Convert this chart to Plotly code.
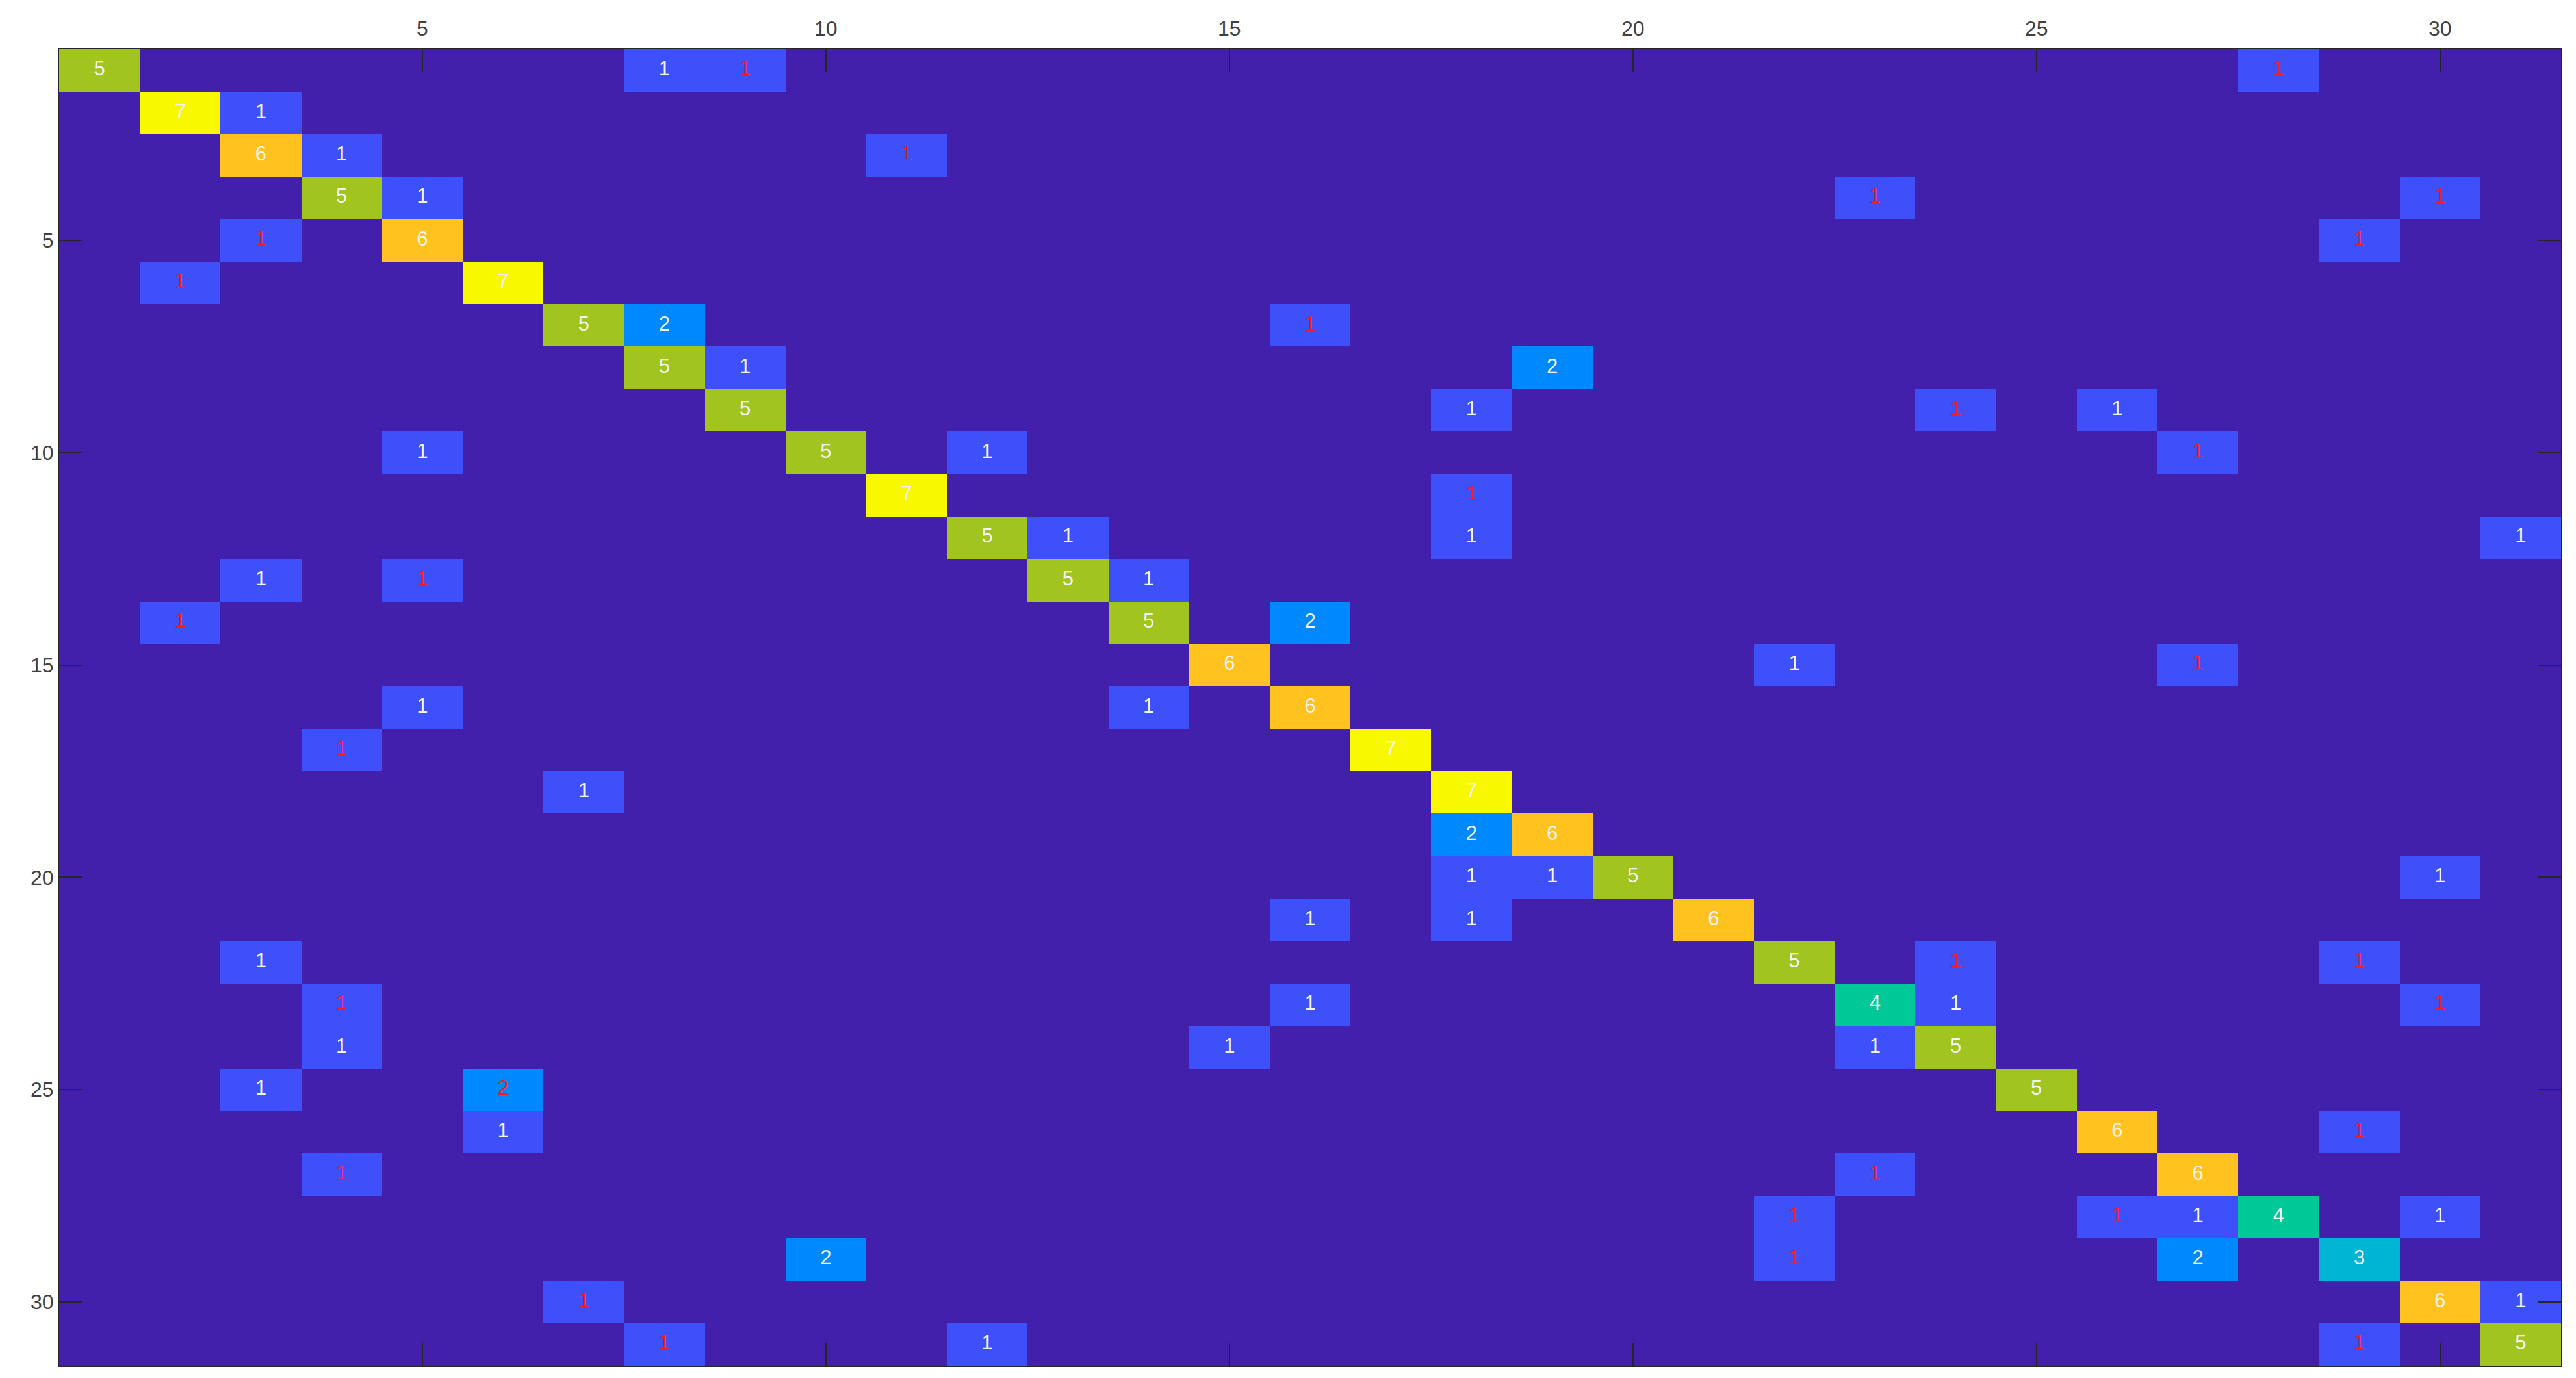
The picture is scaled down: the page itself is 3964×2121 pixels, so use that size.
import numpy as np
import plotly.graph_objects as go

N = 31
# sparse non-zero cells of the 31x31 matrix: (row, col, value)
cell_rows = [1, 1, 1, 1,
             2, 2,
             3, 3, 3,
             4, 4, 4, 4,
             5, 5, 5,
             6, 6,
             7, 7, 7,
             8, 8, 8,
             9, 9, 9, 9,
             10, 10, 10, 10,
             11, 11,
             12, 12, 12, 12,
             13, 13, 13, 13,
             14, 14, 14,
             15, 15, 15,
             16, 16, 16,
             17, 17,
             18, 18,
             19, 19,
             20, 20, 20, 20,
             21, 21, 21,
             22, 22, 22, 22,
             23, 23, 23, 23, 23,
             24, 24, 24, 24,
             25, 25, 25,
             26, 26, 26,
             27, 27, 27,
             28, 28, 28, 28, 28,
             29, 29, 29, 29,
             30, 30, 30,
             31, 31, 31, 31]
cell_cols = [1, 8, 9, 28,
             2, 3,
             3, 4, 11,
             4, 5, 23, 30,
             3, 5, 29,
             2, 6,
             7, 8, 16,
             8, 9, 19,
             9, 18, 24, 26,
             5, 10, 12, 27,
             11, 18,
             12, 13, 18, 31,
             3, 5, 13, 14,
             2, 14, 16,
             15, 22, 27,
             5, 14, 16,
             4, 17,
             7, 18,
             18, 19,
             18, 19, 20, 30,
             16, 18, 21,
             3, 22, 24, 29,
             4, 16, 23, 24, 30,
             4, 15, 23, 24,
             3, 6, 25,
             6, 26, 29,
             4, 23, 27,
             22, 26, 27, 28, 30,
             10, 22, 27, 29,
             7, 30, 31,
             8, 12, 29, 31]
cell_values = [5, 1, 1, 1,
               7, 1,
               6, 1, 1,
               5, 1, 1, 1,
               1, 6, 1,
               1, 7,
               5, 2, 1,
               5, 1, 2,
               5, 1, 1, 1,
               1, 5, 1, 1,
               7, 1,
               5, 1, 1, 1,
               1, 1, 5, 1,
               1, 5, 2,
               6, 1, 1,
               1, 1, 6,
               1, 7,
               1, 7,
               2, 6,
               1, 1, 5, 1,
               1, 1, 6,
               1, 5, 1, 1,
               1, 1, 4, 1, 1,
               1, 1, 1, 5,
               1, 2, 5,
               1, 6, 1,
               1, 1, 6,
               1, 1, 1, 4, 1,
               2, 1, 2, 3,
               1, 6, 1,
               1, 1, 1, 5]
# 1 = label drawn in red, 0 = label drawn in white
label_red = [0, 0, 1, 1,
             0, 0,
             0, 0, 1,
             0, 0, 1, 1,
             1, 0, 1,
             1, 0,
             0, 0, 1,
             0, 0, 0,
             0, 0, 1, 0,
             0, 0, 0, 1,
             0, 1,
             0, 0, 0, 0,
             0, 1, 0, 0,
             1, 0, 0,
             0, 0, 1,
             0, 0, 0,
             1, 0,
             0, 0,
             0, 0,
             0, 0, 0, 0,
             0, 0, 0,
             0, 0, 1, 1,
             1, 0, 0, 0, 1,
             0, 0, 0, 0,
             0, 1, 0,
             0, 0, 1,
             1, 1, 0,
             1, 1, 0, 0, 0,
             0, 1, 0, 0,
             1, 0, 0,
             1, 0, 1, 0]

tick_vals = [5, 10, 15, 20, 25, 30]
level_colors = ["#4320AB", "#3E50F9", "#0088FF", "#00B5D3",
                "#00C896", "#A2C41F", "#FFC21F", "#F8F800"]

z = np.zeros((N, N))
for r, c, v in zip(cell_rows, cell_cols, cell_values):
    z[r - 1, c - 1] = v

# discrete colorscale for integer levels 0..7
nlev = len(level_colors)
colorscale = []
for i, col in enumerate(level_colors):
    colorscale.append([i / nlev, col])
    colorscale.append([(i + 1) / nlev, col])

fig = go.Figure()
fig.add_trace(go.Heatmap(
    z=z, x=list(range(1, N + 1)), y=list(range(1, N + 1)),
    colorscale=colorscale, zmin=-0.5, zmax=nlev - 0.5,
    showscale=False, hoverinfo="skip", xgap=0, ygap=0))

wx = [c for c, f in zip(cell_cols, label_red) if not f]
wy = [r for r, f in zip(cell_rows, label_red) if not f]
wt = [str(v) for v, f in zip(cell_values, label_red) if not f]
rx = [c for c, f in zip(cell_cols, label_red) if f]
ry = [r for r, f in zip(cell_rows, label_red) if f]
rt = [str(v) for v, f in zip(cell_values, label_red) if f]

fig.add_trace(go.Scatter(x=wx, y=wy, text=wt, mode="text",
                         textfont=dict(family="Liberation Sans, Arial", size=31, color="#F4F4F4"),
                         hoverinfo="skip", showlegend=False))
fig.add_trace(go.Scatter(x=rx, y=ry, text=rt, mode="text",
                         textfont=dict(family="Liberation Sans, Arial", size=31, color="#FF1A1A"),
                         hoverinfo="skip", showlegend=False))

axis_common = dict(
    tickvals=tick_vals, ticktext=[str(t) for t in tick_vals],
    ticks="inside", ticklen=35, tickwidth=2, tickcolor="#262626",
    showline=True, linecolor="#262626", linewidth=2, mirror="ticks",
    showgrid=False, zeroline=False, automargin=False,
    tickfont=dict(family="Liberation Sans, Arial", size=32, color="#404040"),
)

fig.update_layout(
    width=3964, height=2121,
    margin=dict(l=83, r=31, t=68, b=27),
    paper_bgcolor="white", plot_bgcolor="white",
    showlegend=False,
    xaxis=dict(side="top", range=[0.5, N + 0.5], ticklabelstandoff=6, **axis_common),
    yaxis=dict(range=[N + 0.5, 0.5], ticklabelstandoff=0, **axis_common),
)

fig.write_html("out.html")
